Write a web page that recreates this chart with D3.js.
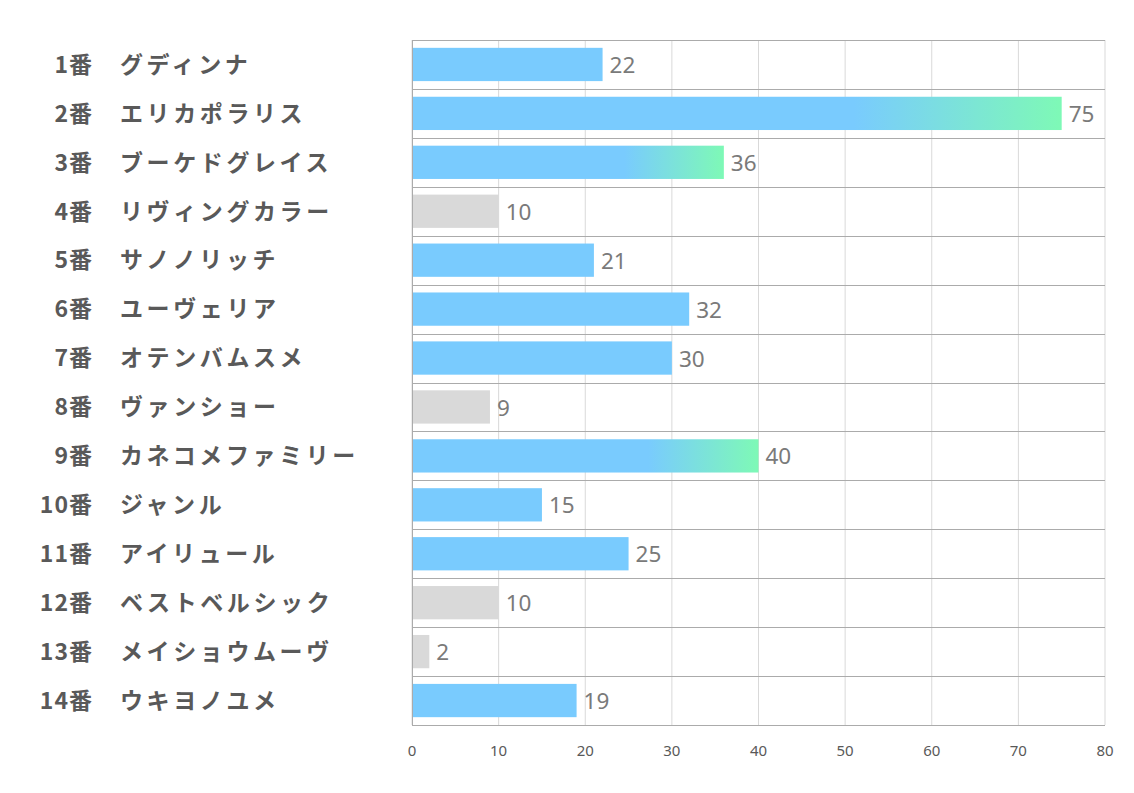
<!DOCTYPE html>
<html>
<head>
<meta charset="utf-8">
<script src="https://cdn.jsdelivr.net/npm/d3@7"></script>
<style>
  body { margin: 0; background: #fff; }
</style>
</head>
<body>
<div id="chart"></div>
<script>
const nums = ["1番", "2番", "3番", "4番", "5番", "6番", "7番", "8番", "9番", "10番", "11番", "12番", "13番", "14番"];
const names = ["グディンナ", "エリカポラリス", "ブーケドグレイス", "リヴィングカラー", "サノノリッチ", "ユーヴェリア", "オテンバムスメ",
  "ヴァンショー", "カネコメファミリー", "ジャンル", "アイリュール", "ベストベルシック", "メイショウムーヴ", "ウキヨノユメ"];
const values = [22, 75, 36, 10, 21, 32, 30, 9, 40, 15, 25, 10, 2, 19];
// group of each horse: "top" = gradient bar, "low" = grey bar
const groups = ["mid", "top", "top", "low", "mid", "mid", "mid", "low", "top", "mid", "mid", "low", "low", "mid"];
const ticks = [0, 10, 20, 30, 40, 50, 60, 70, 80];

var width = 1134,
  height = 793,
  margin = { top: 40, right: 29, bottom: 68, left: 412 },
  iwidth = width - margin.left - margin.right,
  iheight = height - margin.top - margin.bottom;

var svg = d3.select("#chart") // create the SVG
  .append("svg")
  .attr("width", width)
  .attr("height", height);

var defs = svg.append("defs");
var grad = defs.append("linearGradient") // blue -> green at the bar end
  .attr("id", "grad")
  .attr("x1", "0").attr("x2", "1").attr("y1", "0").attr("y2", "0");
grad.append("stop").attr("offset", "0.68").attr("stop-color", "#79CBFE");
grad.append("stop").attr("offset", "1").attr("stop-color", "#7EF9B6");

var g = svg.append("g")
  .attr("transform", "translate(" + margin.left + "," + margin.top + ")");

const x = d3.scaleLinear()
  .domain([0, 80])
  .range([0, iwidth]);

const y = d3.scaleBand()
  .domain(nums)
  .range([0, iheight])
  .paddingInner(0.32)
  .paddingOuter(0.16);

const step = y.step();

// vertical grid
g.selectAll(".vgrid")
  .data(ticks)
  .enter()
  .append("line")
  .attr("x1", d => x(d)).attr("x2", d => x(d))
  .attr("y1", 0).attr("y2", iheight)
  .attr("stroke", "#d9d9d9")
  .attr("stroke-width", 1);

// horizontal row lines
g.selectAll(".hgrid")
  .data(d3.range(nums.length + 1))
  .enter()
  .append("line")
  .attr("x1", 0).attr("x2", iwidth)
  .attr("y1", d => Math.round(d * step) + 0.5).attr("y2", d => Math.round(d * step) + 0.5)
  .attr("stroke", "#ababab")
  .attr("stroke-width", 1);

// left axis line
g.append("line")
  .attr("x1", 0.5).attr("x2", 0.5)
  .attr("y1", 0).attr("y2", iheight)
  .attr("stroke", "#ababab");

// bars
g.selectAll("rect.bar")
  .data(values)
  .enter()
  .append("rect")
  .attr("class", "bar")
  .attr("x", 1)
  .attr("y", (d, i) => y(nums[i]))
  .attr("width", d => x(d) - 1)
  .attr("height", y.bandwidth())
  .attr("fill", (d, i) => groups[i] == "top" ? "url(#grad)" : groups[i] == "low" ? "#d9d9d9" : "#79CBFE");

// value labels
g.selectAll("text.val")
  .data(values)
  .enter()
  .append("text")
  .attr("x", d => x(d) + 7)
  .attr("y", (d, i) => y(nums[i]) + y.bandwidth() / 2)
  .attr("dy", "0.38em")
  .attr("font-family", "'Noto Sans', sans-serif")
  .attr("font-size", 22.5)
  .attr("fill", "#7a7a7a")
  .text(d => d);

// x axis tick labels
g.selectAll("text.tick")
  .data(ticks)
  .enter()
  .append("text")
  .attr("x", d => x(d))
  .attr("y", iheight + 31)
  .attr("text-anchor", "middle")
  .attr("font-family", "'Noto Sans', sans-serif")
  .attr("font-size", 15)
  .attr("fill", "#595959")
  .text(d => d);

// left labels: number and horse name
svg.selectAll("text.num")
  .data(nums)
  .enter()
  .append("text")
  .attr("x", 93)
  .attr("y", d => margin.top + y(d) + y.bandwidth() / 2)
  .attr("dy", "0.36em")
  .attr("text-anchor", "end")
  .attr("font-family", "'Noto Sans CJK JP', sans-serif")
  .attr("font-weight", "bold")
  .attr("font-size", 23)
  .attr("letter-spacing", "1px")
  .attr("fill", "#595959")
  .text(d => d);

svg.selectAll("text.name")
  .data(names)
  .enter()
  .append("text")
  .attr("x", 120)
  .attr("y", (d, i) => margin.top + y(nums[i]) + y.bandwidth() / 2)
  .attr("dy", "0.36em")
  .attr("font-family", "'Noto Sans CJK JP', sans-serif")
  .attr("font-weight", "bold")
  .attr("font-size", 23)
  .attr("letter-spacing", "3.6px")
  .attr("fill", "#595959")
  .text(d => d);
</script>
</body>
</html>
